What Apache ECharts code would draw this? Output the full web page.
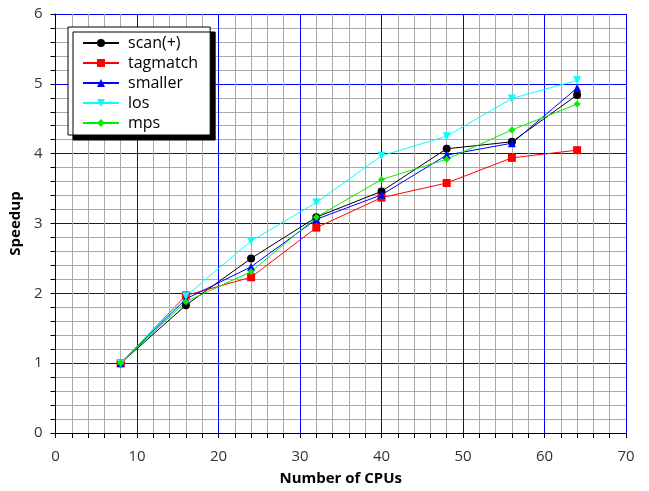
<!DOCTYPE html>
<html>
<head>
<meta charset="utf-8">
<script src="https://cdn.jsdelivr.net/npm/echarts@6/dist/echarts.min.js"></script>
<style>
  html, body { margin: 0; padding: 0; background: #fff; }
  #chart { width: 649px; height: 491px; }
</style>
</head>
<body>
<div id="chart"></div>
<script>
// number of CPUs
var cpus = [8, 16, 24, 32, 40, 48, 56, 64];

// speedup per benchmark
var scanPlus = [1.0, 1.83, 2.50, 3.09, 3.46, 4.07, 4.17, 4.84];
var tagmatch = [1.0, 1.97, 2.23, 2.94, 3.37, 3.58, 3.94, 4.05];
var smaller = [1.0, 1.92, 2.38, 3.06, 3.41, 3.98, 4.15, 4.94];
var los = [1.0, 1.96, 2.75, 3.30, 3.97, 4.25, 4.79, 5.05];
var mps = [1.0, 1.88, 2.31, 3.09, 3.63, 3.92, 4.34, 4.71];

function pairs(ys) {
  return cpus.map(function (x, i) { return [x, ys[i]]; });
}

function mkSeries(name, ys, color, symbol, size, rotate) {
  return {
    name: name,
    type: "line",
    data: pairs(ys),
    symbol: symbol,
    symbolSize: size,
    symbolRotate: rotate || 0,
    lineStyle: { color: color, width: 1 },
    itemStyle: { color: color },
    animation: false
  };
}

var chart = echarts.init(document.getElementById("chart"));

var axisFont = { color: "#333", fontSize: 15, fontFamily: "Open Sans" };

var option = {
  animation: false,
  grid: { left: 54, right: 23, top: 14, bottom: 56 },
  legend: {
    orient: "vertical",
    left: 68,
    top: 27,
    padding: [8, 12, 4, 14],
    itemWidth: 36,
    itemHeight: 10,
    itemGap: 4,
    backgroundColor: "#fff",
    borderColor: "#000",
    borderWidth: 1,
    shadowColor: "#000",
    shadowBlur: 0,
    shadowOffsetX: 5,
    shadowOffsetY: 5,
    textStyle: { color: "#000", fontSize: 16, fontFamily: "Open Sans", padding: [0, 0, 0, 4] },
    data: ["scan(+)", "tagmatch", "smaller", "los", "mps"]
  },
  xAxis: {
    type: "value",
    min: 0,
    max: 70,
    interval: 10,
    name: "Number of CPUs",
    nameLocation: "middle",
    nameGap: 38,
    nameTextStyle: { color: "#000", fontSize: 15, fontWeight: "bold", fontFamily: "Open Sans" },
    axisLine: { show: true, lineStyle: { color: "#000", width: 1 } },
    axisTick: { show: true, length: 5, lineStyle: { color: "#000" } },
    minorTick: { show: true, splitNumber: 5, length: 5, lineStyle: { color: "#000" } },
    axisLabel: Object.assign({ margin: 16 }, axisFont),
    splitLine: { show: true, lineStyle: { color: "#0000ff", width: 1 } },
    minorSplitLine: { show: true, lineStyle: { color: "#aaaaaa", width: 1 } }
  },
  yAxis: {
    type: "value",
    min: 0,
    max: 6,
    interval: 1,
    name: "Speedup",
    nameLocation: "middle",
    nameGap: 28,
    nameTextStyle: { color: "#000", fontSize: 15, fontWeight: "bold", fontFamily: "Open Sans" },
    axisLine: { show: true, lineStyle: { color: "#000", width: 1 } },
    axisTick: { show: true, length: 5, lineStyle: { color: "#000" } },
    minorTick: { show: true, splitNumber: 5, length: 5, lineStyle: { color: "#000" } },
    axisLabel: Object.assign({ margin: 13 }, axisFont),
    splitLine: { show: true, lineStyle: { color: "#0000ff", width: 1 } },
    minorSplitLine: { show: true, lineStyle: { color: "#aaaaaa", width: 1 } }
  },
  series: [
    mkSeries("scan(+)", scanPlus, "#000000", "circle", 8),
    mkSeries("tagmatch", tagmatch, "#ff0000", "rect", 8),
    mkSeries("smaller", smaller, "#0000ff", "triangle", 8),
    mkSeries("los", los, "#00ffff", "triangle", 8, 180),
    mkSeries("mps", mps, "#00ee00", "diamond", 7)
  ]
};

chart.setOption(option);
</script>
</body>
</html>
